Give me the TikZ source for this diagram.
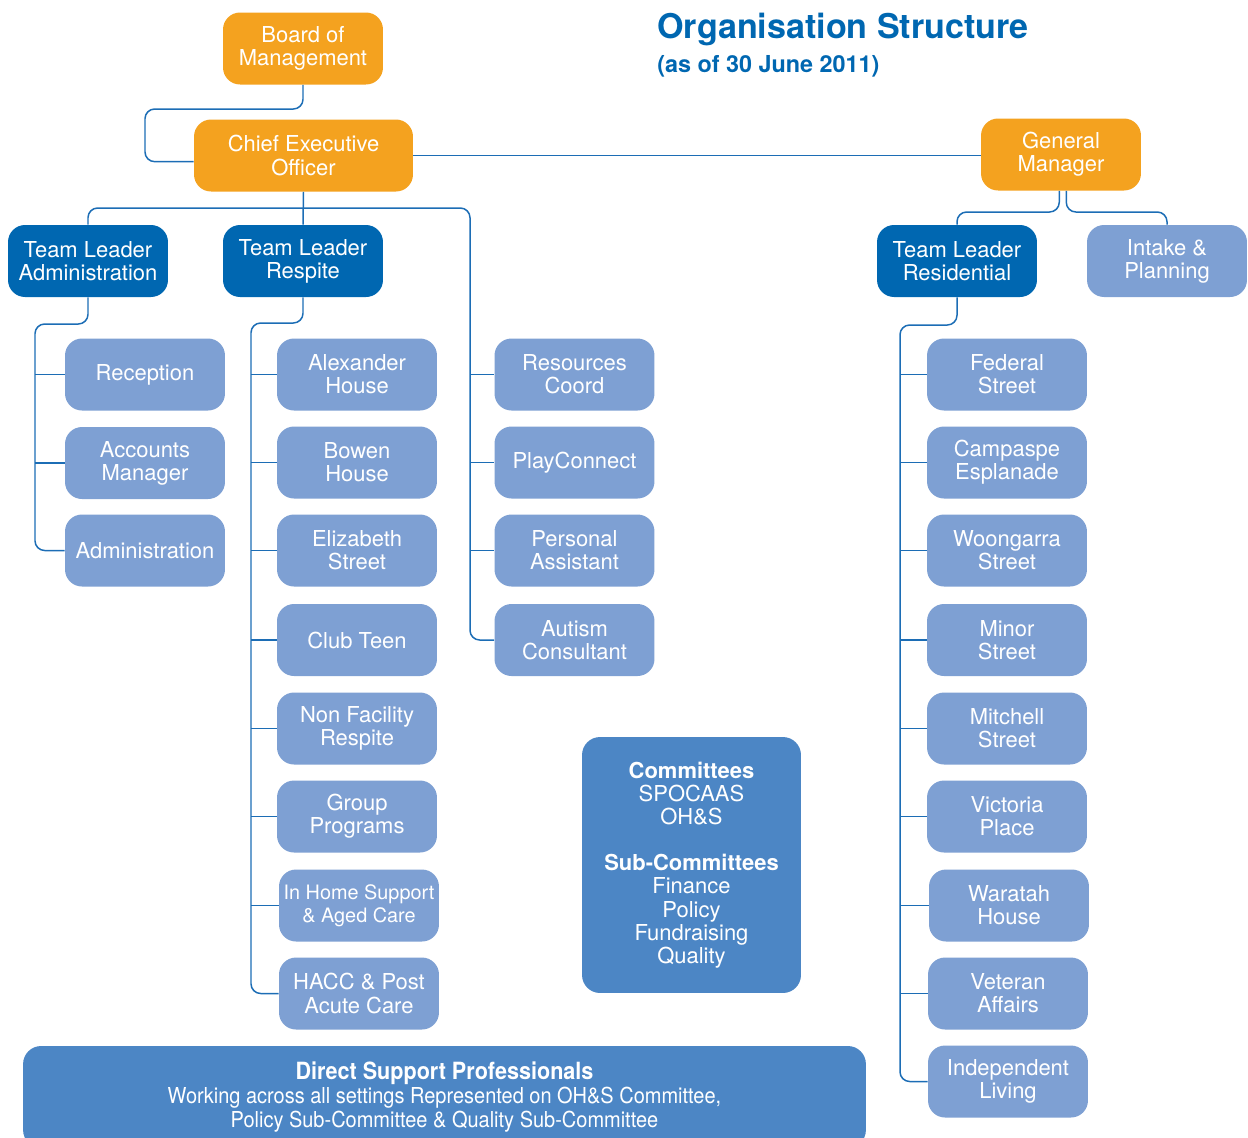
\documentclass[tikz,border=0pt]{standalone}
\usepackage{fontspec}
\setmainfont{TeX Gyre Heros}
\newfontfamily\narrowfont[FakeStretch=0.91]{TeX Gyre Heros}
\definecolor{orgorange}{HTML}{F4A21F}
\definecolor{orgdark}{HTML}{0067B1}
\definecolor{orglight}{HTML}{7EA0D3}
\definecolor{orgmid}{HTML}{4C86C5}
\definecolor{orgline}{HTML}{1C6DB5}
\tikzset{
  box/.style={rounded corners=0.34cm, text=white, align=center, minimum width=3.2cm,
    minimum height=1.44cm, inner sep=1pt, font=\fontsize{12.5}{13.2}\selectfont},
  topbox/.style={box, fill=orgorange},
  leadbox/.style={box, fill=orgdark},
  unitbox/.style={box, fill=orglight},
  link/.style={draw=orgline, line width=0.85pt, rounded corners=5.5pt},
}
\begin{document}
\begin{tikzpicture}[x=0.02cm,y=-0.02cm]
\useasboundingbox (0,0) rectangle (1248,1137);
\clip (0,0) rectangle (1248,1137);
% title
\node[anchor=base west, inner sep=0, text=orgdark, font=\fontsize{19.4}{22}\selectfont\bfseries] (title) at (657,38) {Organisation Structure};
\node[anchor=base west, inner sep=0, text=orgdark, font=\fontsize{13.3}{15}\selectfont\bfseries] (date) at (657,72) {(as of 30 June 2011)};
% top of the tree
\node[topbox] (board) at (303,48.5) {Board of\\Management};
\node[topbox, minimum width=4.38cm] (ceo) at (303.5,155.5) {Chief Executive\\Officer};
\node[topbox] (gm) at (1061,154.5) {General\\Manager};
\node[leadbox] (tladm) at (88,261) {Team Leader\\Administration};
\node[leadbox] (tlresp) at (303,261) {Team Leader\\Respite};
\node[leadbox] (tlres) at (957,261) {Team Leader\\Residential};
\node[unitbox] (intake) at (1167,261) {Intake \&\\Planning};
% administration
\node[unitbox] (recept) at (145,374.5) {Reception};
\node[unitbox] (accts) at (145,463) {Accounts\\Manager};
\node[unitbox] (adminis) at (145,550.5) {Administration};
% respite
\node[unitbox] (alex) at (357,374.5) {Alexander\\House};
\node[unitbox] (bowen) at (357,462.5) {Bowen\\House};
\node[unitbox] (eliz) at (357,550.5) {Elizabeth\\Street};
\node[unitbox] (club) at (357,640) {Club Teen};
\node[unitbox] (nonfac) at (357,728.5) {Non Facility\\Respite};
\node[unitbox] (group) at (357,816.5) {Group\\Programs};
\node[unitbox, font=\fontsize{11.3}{13.2}\selectfont] (inhome) at (359,905.5) {In Home Support\\\& Aged Care};
\node[unitbox] (hacc) at (359,993.5) {HACC \& Post\\Acute Care};
% reporting to the CEO
\node[unitbox] (rescoord) at (574.5,374.5) {Resources\\Coord};
\node[unitbox] (playc) at (574.5,462.5) {PlayConnect};
\node[unitbox] (persa) at (574.5,550.5) {Personal\\Assistant};
\node[unitbox] (autism) at (574.5,640) {Autism\\Consultant};
% residential
\node[unitbox] (federal) at (1007,374.5) {Federal\\Street};
\node[unitbox] (campaspe) at (1007,462.5) {Campaspe\\Esplanade};
\node[unitbox] (woong) at (1007,550.5) {Woongarra\\Street};
\node[unitbox] (minor) at (1007,640) {Minor\\Street};
\node[unitbox] (mitchell) at (1007,728.5) {Mitchell\\Street};
\node[unitbox] (victoria) at (1007,816.5) {Victoria\\Place};
\node[unitbox] (waratah) at (1009,905.5) {Waratah\\House};
\node[unitbox] (veteran) at (1008,993.5) {Veteran\\Affairs};
\node[unitbox] (indep) at (1008,1081.5) {Independent\\Living};
% committees and staff
\node[box, fill=orgmid, minimum width=4.38cm, minimum height=5.12cm, rounded corners=0.36cm] (cttee) at (691.5,865)
  {\textbf{Committees}\\SPOCAAS\\OH\&S\\[13.2pt]\textbf{Sub-Committees}\\Finance\\Policy\\Fundraising\\Quality};
\node[box, fill=orgmid, minimum width=16.86cm, minimum height=2.04cm, rounded corners=0.36cm,
  font=\narrowfont\fontsize{12.5}{13.6}\selectfont] (dsp) at (444.5,1097)
  {{\fontsize{13.5}{13.6}\selectfont\bfseries Direct Support Professionals}\\
   Working across all settings Represented on OH\&S Committee,\\
   Policy Sub-Committee \& Quality Sub-Committee};
% connectors
\coordinate (boardbend) at (145,109);
\draw[link] (board.south) |- (boardbend) |- ([yshift=-3.5pt]ceo.west);
\draw[link] (ceo.east) -- (ceo.east -| gm.west);
\coordinate (ceobus) at (470,208);
\draw[link] (ceo.south) -- (tlresp.north);
\draw[link] (tladm.north) |- (ceobus) |- (autism.west);
\draw[link] (rescoord.west -| ceobus) -- (rescoord.west);
\draw[link] (playc.west -| ceobus) -- (playc.west);
\draw[link] (persa.west -| ceobus) -- (persa.west);
%
\coordinate (admbus) at (35,324);
\draw[link] (tladm.south) |- (admbus) |- (adminis.west);
\draw[link] (recept.west -| admbus) -- (recept.west);
\draw[link] (accts.west -| admbus) -- (accts.west);
%
\coordinate (respbus) at (251,323);
\draw[link] (tlresp.south) |- (respbus) |- (hacc.west);
\draw[link] (alex.west -| respbus) -- (alex.west);
\draw[link] (bowen.west -| respbus) -- (bowen.west);
\draw[link] (eliz.west -| respbus) -- (eliz.west);
\draw[link] (club.west -| respbus) -- (club.west);
\draw[link] (nonfac.west -| respbus) -- (nonfac.west);
\draw[link] (group.west -| respbus) -- (group.west);
\draw[link] (inhome.west -| respbus) -- (inhome.west);
%
\coordinate (gmleft) at (957,212);
\coordinate (gmright) at (1167,212);
\draw[link] ([xshift=-1pt]gm.south) |- (gmleft) -- (tlres.north);
\draw[link] ([xshift=3pt]gm.south) |- (gmright) -- (intake.north);
%
\coordinate (resbus) at (900,325);
\draw[link] (tlres.south) |- (resbus) |- (indep.west);
\draw[link] (federal.west -| resbus) -- (federal.west);
\draw[link] (campaspe.west -| resbus) -- (campaspe.west);
\draw[link] (woong.west -| resbus) -- (woong.west);
\draw[link] (minor.west -| resbus) -- (minor.west);
\draw[link] (mitchell.west -| resbus) -- (mitchell.west);
\draw[link] (victoria.west -| resbus) -- (victoria.west);
\draw[link] (waratah.west -| resbus) -- (waratah.west);
\draw[link] (veteran.west -| resbus) -- (veteran.west);
\end{tikzpicture}
\end{document}
